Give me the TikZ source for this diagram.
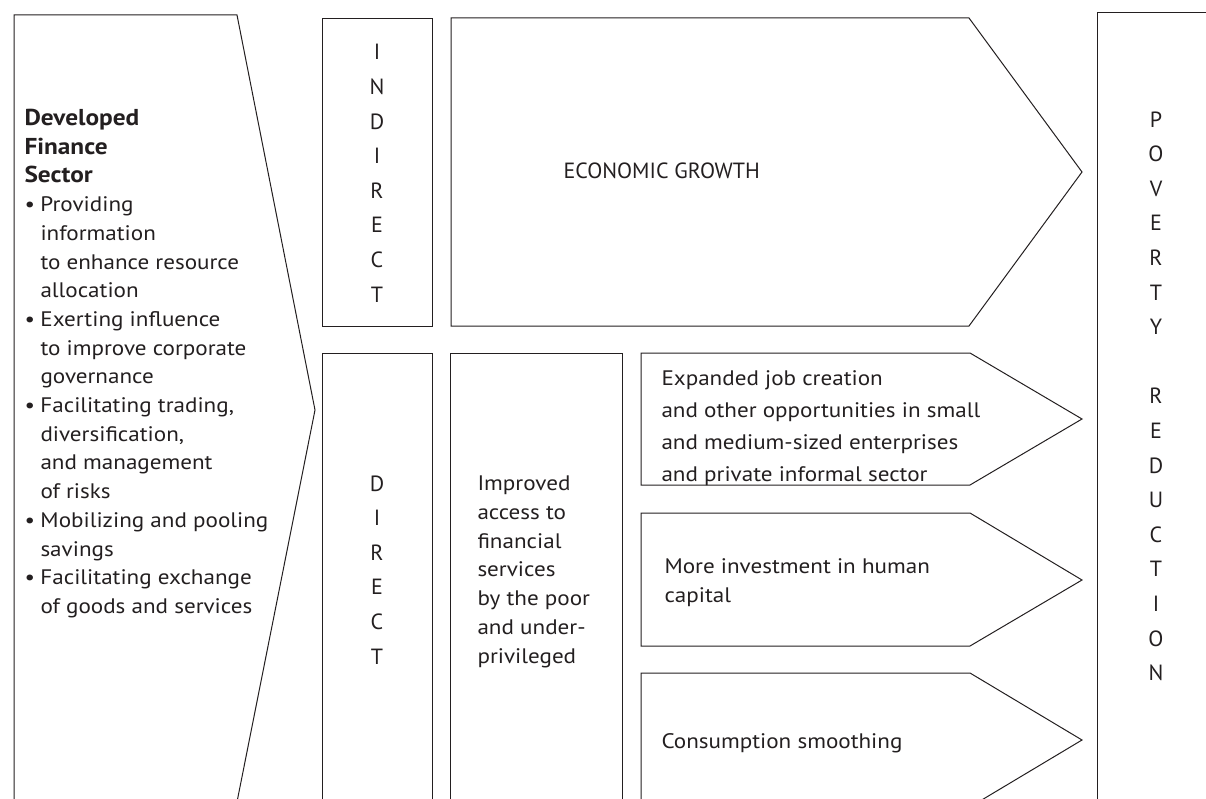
\documentclass[tikz,border=0pt]{standalone}
\usepackage{fontspec}
\setmainfont[FakeStretch=1.1]{PT Sans}
\newfontfamily\capsfont{PT Sans}
\definecolor{ink}{RGB}{35,31,32}
\newcommand{\fstrut}{\rule{0pt}{17pt}}
\newcommand{\bul}{\makebox[16pt][l]{•}}
\newcommand{\ind}{\hspace*{16pt}}
\newcommand{\hd}[1]{{\fontsize{23}{28.7}\selectfont\bfseries #1}}
\begin{document}
\begin{tikzpicture}[x=1pt,y=-1pt,line width=1pt,line join=miter,
  shp/.style={draw=ink},
  txt/.style={inner sep=0pt,anchor=north west,align=left,text=ink},
  one/.style={inner sep=0pt,anchor=base west,text=ink,font=\fontsize{21}{24}\selectfont},
  vert/.style={inner sep=0pt,anchor=north,align=center,text=ink,font=\capsfont\fontsize{22}{34.6}\selectfont}]
\useasboundingbox (0,0) rectangle (1206,799);
% shapes
\draw[shp] (14,812) -- (14,15) -- (237,15) -- (315,410) -- (235,812);
\draw[shp] (322,19) rectangle (432,326);
\draw[shp] (451,18) -- (969,18) -- (1082,172) -- (969,326) -- (451,326) -- cycle;
\draw[shp] (322,812) |- (432,353) -- (432,812);
\draw[shp] (450,812) |- (622,353) -- (622,812);
\draw[shp] (641,353) -- (970,353) -- (1082,419) -- (970,485) -- (641,485) -- cycle;
\draw[shp] (641,513) -- (970,513) -- (1082,580) -- (970,646) -- (641,646) -- cycle;
\draw[shp] (641,812) |- (970,673) -- (1082,740) -- (970,807) -- (970,812);
\draw[shp] (1097,812) |- (1220,13);
% texts
\node[txt,font=\fontsize{21}{28.7}\selectfont] (fin) at (24,108) {%
\fstrut\hd{Developed}\\
\hd{Finance}\\
\hd{Sector}\\
\bul Providing\\
\ind information\\
\ind to enhance resource\\
\ind allocation\\
\bul Exerting influence\\
\ind to improve corporate\\
\ind governance\\
\bul Facilitating trading,\\
\ind diversification,\\
\ind and management\\
\ind of risks\\
\bul Mobilizing and pooling\\
\ind savings\\
\bul Facilitating exchange\\
\ind of goods and services};
\node[vert] (indirect) at (377,44) {I\\N\\D\\I\\R\\E\\C\\T};
\node[vert] (direct) at (377,475) {D\\I\\R\\E\\C\\T};
\node[vert] (pov) at (1156,111) {P\\O\\V\\E\\R\\T\\Y\\\mbox{}\\R\\E\\D\\U\\C\\T\\I\\O\\N};
\node[one,font=\capsfont\fontsize{22}{24}\selectfont] (growth) at (563,179) {ECONOMIC GROWTH};
\node[txt,font=\fontsize{21}{28.8}\selectfont] (access) at (477,473) {%
\fstrut Improved\\access to\\financial\\services\\by the poor\\and under-\\privileged};
\node[txt,font=\fontsize{21}{32}\selectfont] (jobs) at (661,368) {%
\fstrut Expanded job creation\\and other opportunities in small\\and medium-sized enterprises\\and private informal sector};
\node[txt,font=\fontsize{21}{29.3}\selectfont] (human) at (664,556) {%
\fstrut More investment in human\\capital};
\node[one] (cons) at (661,748) {Consumption smoothing};
\end{tikzpicture}
\end{document}
